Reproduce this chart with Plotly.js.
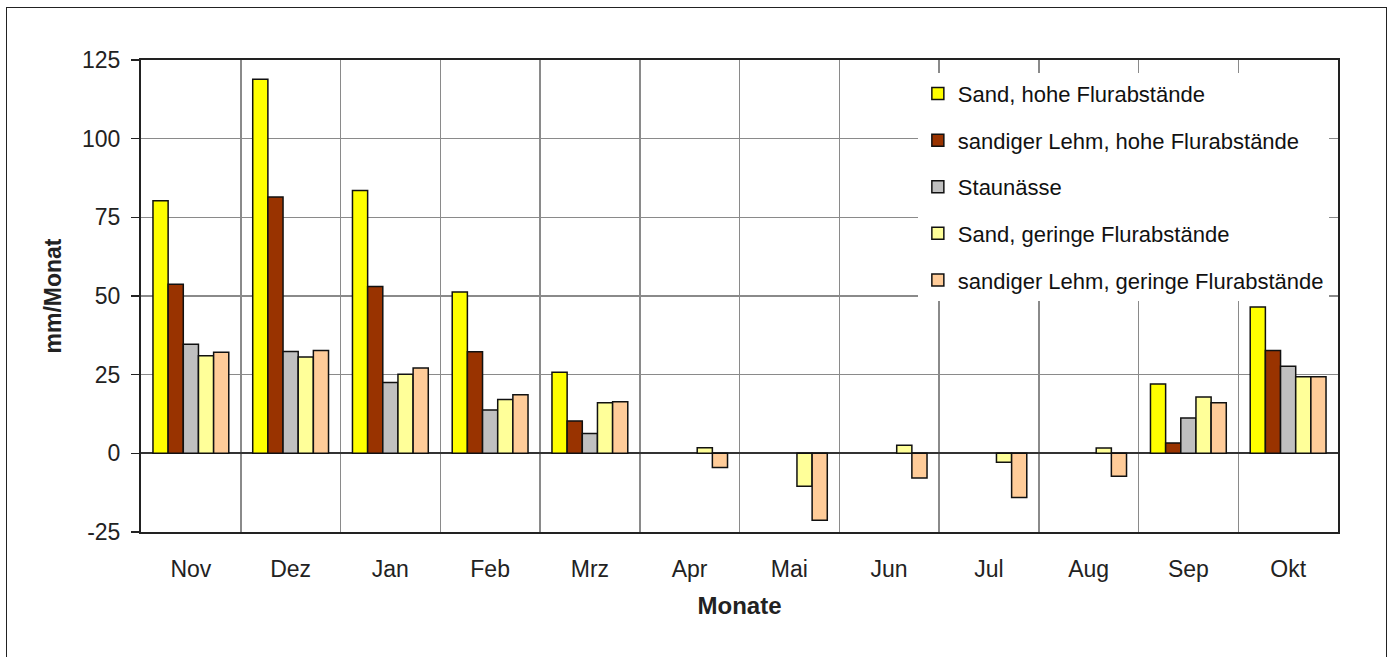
<!DOCTYPE html>
<html>
<head>
<meta charset="utf-8">
<script src="https://cdn.plot.ly/plotly-3.0.1.min.js"></script>
<style>
html,body{margin:0;padding:0;background:#fff;}
#wrap{position:relative;width:1395px;height:657px;}
#frame{position:absolute;left:6px;top:7px;width:1381px;height:660px;border:1.5px solid #222;box-sizing:border-box;pointer-events:none;z-index:5;}
#chart{width:1395px;height:657px;}
</style>
</head>
<body>
<div id="wrap"><div id="chart"></div><div id="frame"></div></div>
<script>
const months = ["Nov","Dez","Jan","Feb","Mrz","Apr","Mai","Jun","Jul","Aug","Sep","Okt"];
const seriesNames = ["Sand, hohe Flurabstände","sandiger Lehm, hohe Flurabstände","Staunässe","Sand, geringe Flurabstände","sandiger Lehm, geringe Flurabstände"];
const sandHoch = [80.3,118.9,83.5,51.3,25.8,null,null,null,null,null,22.0,46.5];
const lehmHoch = [53.7,81.5,53.0,32.3,10.3,null,null,null,null,null,3.3,32.7];
const staunaesse = [34.7,32.4,22.5,13.8,6.3,null,null,null,null,null,11.2,27.7];
const sandGering = [31.0,30.6,25.1,17.1,16.1,1.8,-10.5,2.6,-2.8,1.7,17.9,24.3];
const lehmGering = [32.1,32.7,27.1,18.6,16.4,-4.5,-21.3,-7.8,-14.0,-7.3,16.1,24.3];
const yTickVals = [-25,0,25,50,75,100,125];
const yTickText = ["-25","0","25","50","75","100","125"];
const colors = ["#FFFF00","#993300","#C0C0C0","#FFFF99","#FFCC99"];
const values = [sandHoch,lehmHoch,staunaesse,sandGering,lehmGering];

const traces = values.map((v,i)=>({
  type:"bar", x:months, y:v, name:seriesNames[i], legendgroup:"g"+i,
  marker:{color:colors[i], line:{color:"#111", width:1.5}}
}));

const layout = {
  width:1395, height:657,
  paper_bgcolor:"#fff", plot_bgcolor:"#fff",
  margin:{l:141, r:57, t:60, b:125},
  barmode:"group", bargap:0.24, bargroupgap:0,
  font:{family:"Liberation Sans, Arial, sans-serif", color:"#222", size:23},
  xaxis:{
    type:"category", tickson:"boundaries", showgrid:true, gridcolor:"#8a8a8a", gridwidth:1.5,
    showline:true, linecolor:"#222", linewidth:2, mirror:true,
    ticks:"", ticklabelstandoff:15,
    tickfont:{size:23}, title:{text:"Monate", font:{size:24, weight:"bold"}, standoff:17}
  },
  yaxis:{
    range:[-25,125], tickvals:yTickVals, ticktext:yTickText, ticks:"outside", ticklen:8, tickwidth:1.5, tickcolor:"#222",
    ticklabelstandoff:6,
    showgrid:true, gridcolor:"#8a8a8a", gridwidth:1.5, zeroline:true, zerolinecolor:"#333", zerolinewidth:2,
    showline:true, linecolor:"#222", linewidth:2, mirror:true,
    tickfont:{size:23}, title:{text:"mm/Monat", font:{size:23, weight:"bold"}, standoff:14}
  },
  legend:{
    x:0.649, y:0.973, xanchor:"left", yanchor:"top", bgcolor:"#fff",
    font:{size:22, color:"#111"}, tracegroupgap:15, traceorder:"grouped"
  },
  showlegend:true
};
Plotly.newPlot("chart", traces, layout, {displayModeBar:false, staticPlot:true});
</script>
</body>
</html>
